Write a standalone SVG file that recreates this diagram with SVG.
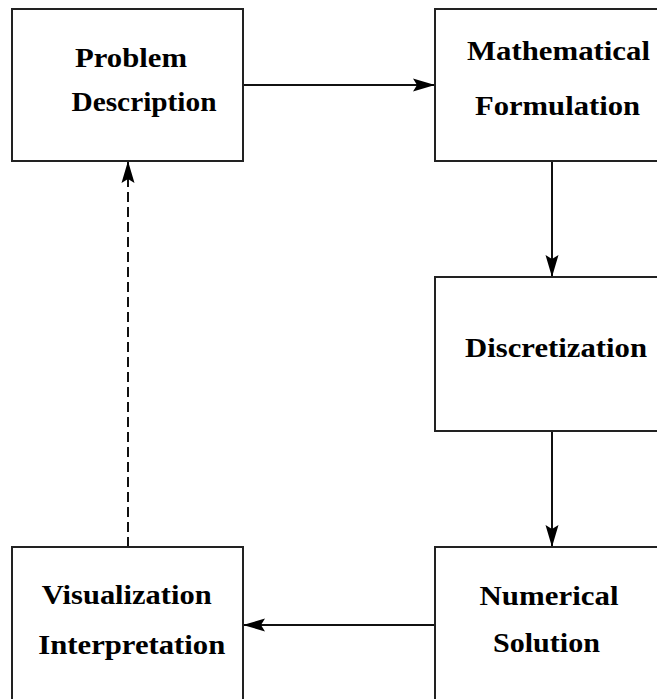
<svg xmlns="http://www.w3.org/2000/svg" width="657" height="699" viewBox="0 0 657 699">
<style>
.box{fill:#fff;stroke:#222;stroke-width:2}
.lbl{font-family:"Liberation Serif","Times New Roman",serif;font-weight:bold;font-size:28px;fill:#000}
.con{stroke:#111;stroke-width:2;fill:none}
.dash{stroke-dasharray:10 5}
</style>
<defs>
<marker id="ah" markerUnits="userSpaceOnUse" markerWidth="24" markerHeight="14" refX="22" refY="7" orient="auto">
<path d="M0,0.5 L22,7 L0,13.5 L4,7 z" fill="#000"/>
</marker>
</defs>
<rect width="657" height="699" fill="#fff"/>
<g id="connectors">
<line class="con" x1="243" y1="85" x2="435" y2="85" marker-end="url(#ah)"/>
<line class="con" x1="552" y1="161" x2="552" y2="277" marker-end="url(#ah)"/>
<line class="con" x1="552" y1="431" x2="552" y2="547" marker-end="url(#ah)"/>
<line class="con" x1="435" y1="625" x2="243" y2="625" marker-end="url(#ah)"/>
<line class="con dash" x1="128" y1="547" x2="128" y2="161" marker-end="url(#ah)"/>
</g>
<g id="problem">
<rect class="box" x="12" y="9" width="231" height="152"/>
<text class="lbl" x="75" y="67" textLength="112" lengthAdjust="spacingAndGlyphs">Problem</text>
<text class="lbl" x="71.5" y="111" textLength="145" lengthAdjust="spacingAndGlyphs">Description</text>
</g>
<g id="math">
<rect class="box" x="435" y="9" width="230" height="152"/>
<text class="lbl" x="467" y="60" textLength="183" lengthAdjust="spacingAndGlyphs">Mathematical</text>
<text class="lbl" x="475" y="115" textLength="165" lengthAdjust="spacingAndGlyphs">Formulation</text>
</g>
<g id="discretization">
<rect class="box" x="435" y="277" width="230" height="154"/>
<text class="lbl" x="465" y="357" textLength="182" lengthAdjust="spacingAndGlyphs">Discretization</text>
</g>
<g id="numerical">
<rect class="box" x="435" y="547" width="230" height="160"/>
<text class="lbl" x="479.5" y="605" textLength="139" lengthAdjust="spacingAndGlyphs">Numerical</text>
<text class="lbl" x="493" y="652" textLength="107" lengthAdjust="spacingAndGlyphs">Solution</text>
</g>
<g id="visualization">
<rect class="box" x="12" y="547" width="231" height="160"/>
<text class="lbl" x="41.7" y="603.5" textLength="170" lengthAdjust="spacingAndGlyphs">Visualization</text>
<text class="lbl" x="38.3" y="653.5" textLength="187" lengthAdjust="spacingAndGlyphs">Interpretation</text>
</g>
</svg>
